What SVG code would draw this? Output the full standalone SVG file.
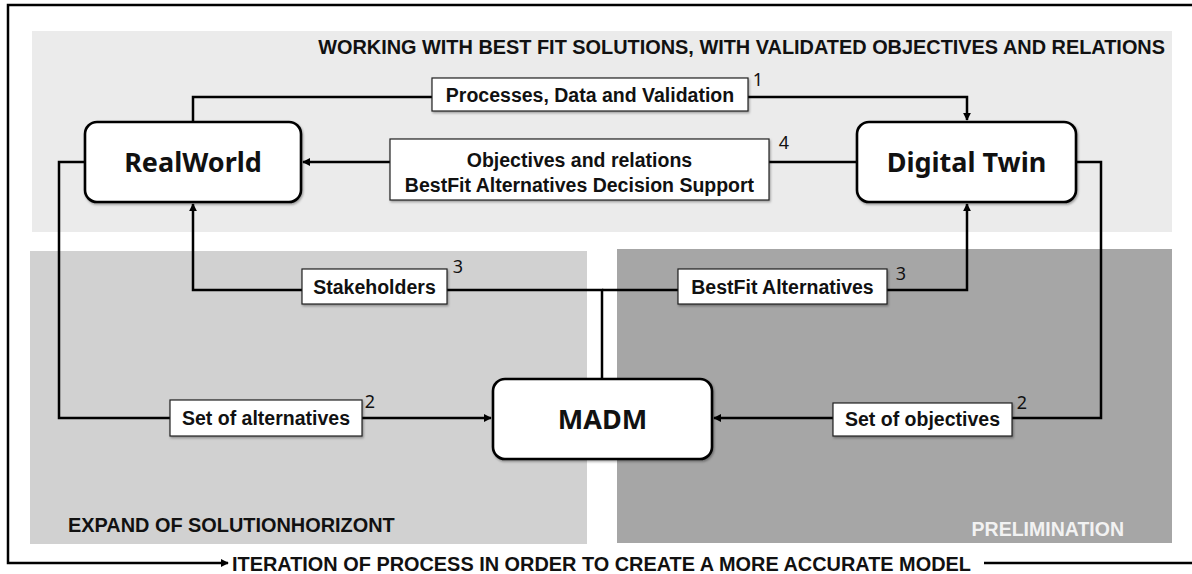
<svg xmlns="http://www.w3.org/2000/svg" width="1192" height="574" viewBox="0 0 1192 574">
  <defs>
    <marker id="arr" viewBox="0 0 10 10" refX="9" refY="5" markerWidth="3.2" markerHeight="3.2" orient="auto" markerUnits="strokeWidth">
      <path d="M0,0 L10,5 L0,10 z" fill="#000"/>
    </marker>
    <filter id="sh" x="-5%" y="-5%" width="115%" height="120%">
      <feDropShadow dx="1" dy="1.5" stdDeviation="1" flood-color="#000" flood-opacity="0.35"/>
    </filter>
  </defs>
  <style>
    .lbl { font-family: "Liberation Sans", Arial, sans-serif; font-weight: bold; font-size: 19.5px; fill: #111; }
    .big { font-size: 19.9px; }
    .node { fill: #fff; stroke: #000; stroke-width: 2.6; }
    .ntxt { font-family: "Noto Sans", "DejaVu Sans", sans-serif; font-weight: bold; font-size: 27px; fill: #111; text-anchor: middle; }
    .lbox { fill: #fff; stroke: #222; stroke-width: 1.2; }
    .num { font-family: "Noto Sans", "DejaVu Sans", sans-serif; font-size: 18px; fill: #111; text-anchor: middle; }
    .con { fill: none; stroke: #000; stroke-width: 2.5; }
    .ctr { text-anchor: middle; }
  </style>
  <rect width="1192" height="574" fill="#fff"/>

  <!-- panels -->
  <g id="panels">
    <rect x="32" y="31" width="1140" height="201" fill="#ebebeb"/>
    <rect x="30" y="251" width="557" height="293" fill="#d1d1d1"/>
    <rect x="617" y="249" width="555" height="294" fill="#a6a6a6"/>
    <text class="lbl big" x="1165" y="54" text-anchor="end">WORKING WITH BEST FIT SOLUTIONS, WITH VALIDATED OBJECTIVES AND RELATIONS</text>
    <text class="lbl big" x="68" y="532">EXPAND OF SOLUTIONHORIZONT</text>
    <text class="lbl" x="1124" y="536" text-anchor="end" style="fill:#f2f2f2">PRELIMINATION</text>
  </g>

  <!-- frame / iteration -->
  <g id="frame" class="con">
    <path d="M1192,5 H8 V563 H228" marker-end="url(#arr)"/>
    <path d="M984,563 H1192"/>
  </g>
  <text class="lbl big" x="232" y="571">ITERATION OF PROCESS IN ORDER TO CREATE A MORE ACCURATE MODEL</text>

  <!-- connectors -->
  <g id="connectors" class="con">
    <path d="M193,122 V97 H967 V120" marker-end="url(#arr)"/>
    <path d="M857,162 H303" marker-end="url(#arr)"/>
    <path d="M85,162 H59 V418 H491" marker-end="url(#arr)"/>
    <path d="M1076,162 H1101 V418 H714" marker-end="url(#arr)"/>
    <path d="M602,379 V290 H193 V204" marker-end="url(#arr)"/>
    <path d="M602,290 H967 V204" marker-end="url(#arr)"/>
  </g>

  <!-- connector labels -->
  <g id="label-processes">
    <rect class="lbox" x="432" y="78" width="316" height="33" filter="url(#sh)"/>
    <text class="lbl ctr" x="590" y="102">Processes, Data and Validation</text>
    <text class="num" x="758" y="86">1</text>
  </g>
  <g id="label-objectives">
    <rect class="lbox" x="390" y="139" width="379" height="61" filter="url(#sh)"/>
    <text class="lbl ctr" x="579.5" y="167">Objectives and relations</text>
    <text class="lbl ctr" x="579.5" y="192">BestFit Alternatives Decision Support</text>
    <text class="num" x="784" y="149">4</text>
  </g>
  <g id="label-stakeholders">
    <rect class="lbox" x="302" y="269" width="145" height="35" filter="url(#sh)"/>
    <text class="lbl ctr" x="374.5" y="294">Stakeholders</text>
    <text class="num" x="458" y="273">3</text>
  </g>
  <g id="label-bestfit">
    <rect class="lbox" x="678" y="269" width="209" height="35" filter="url(#sh)"/>
    <text class="lbl ctr" x="782.5" y="294">BestFit Alternatives</text>
    <text class="num" x="901" y="280">3</text>
  </g>
  <g id="label-alternatives">
    <rect class="lbox" x="170" y="400" width="192" height="36" filter="url(#sh)"/>
    <text class="lbl ctr" x="266" y="425">Set of alternatives</text>
    <text class="num" x="370" y="408">2</text>
  </g>
  <g id="label-objectives2">
    <rect class="lbox" x="833" y="403" width="179" height="33" filter="url(#sh)"/>
    <text class="lbl ctr" x="922.5" y="426">Set of objectives</text>
    <text class="num" x="1022" y="409">2</text>
  </g>

  <!-- nodes -->
  <g id="node-realworld">
    <rect class="node" x="85" y="122" width="216" height="80" rx="12" filter="url(#sh)"/>
    <text class="ntxt" x="193" y="171.5">RealWorld</text>
  </g>
  <g id="node-digitaltwin">
    <rect class="node" x="857" y="122" width="219" height="80" rx="12" filter="url(#sh)"/>
    <text class="ntxt" x="966.5" y="171.5">Digital Twin</text>
  </g>
  <g id="node-madm">
    <rect class="node" x="493" y="379" width="219" height="80" rx="12" filter="url(#sh)"/>
    <text class="ntxt" x="602.5" y="428.5">MADM</text>
  </g>
</svg>
